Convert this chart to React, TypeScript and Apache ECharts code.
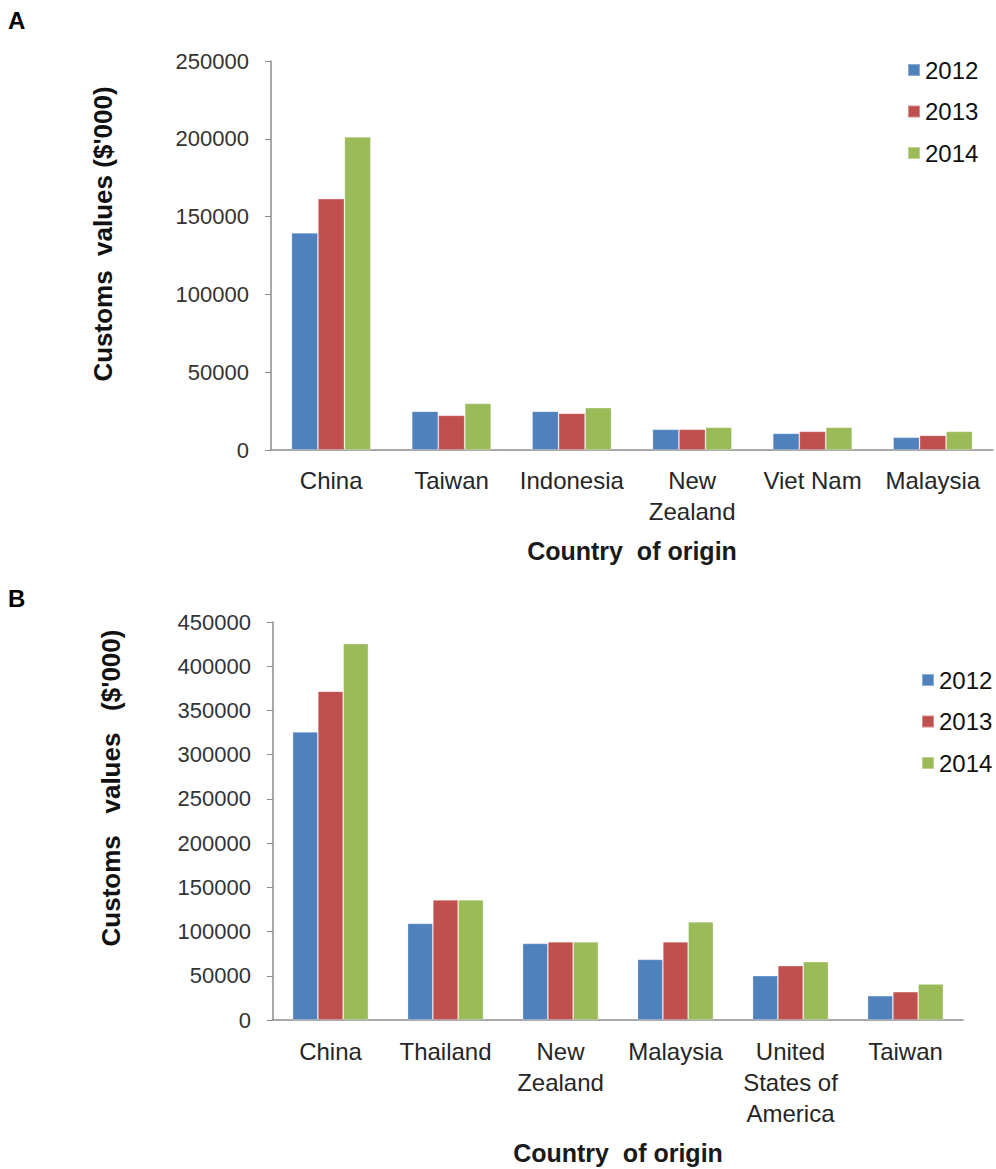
import React, { useEffect, useRef } from "react";
import * as echarts from "echarts";

const years = ["2012", "2013", "2014"];
const colors = ["#4F81BD", "#C0504D", "#9BBB59"];

const catsA = ["China", "Taiwan", "Indonesia", "New\nZealand", "Viet Nam", "Malaysia"];
const a2012 = [139600, 24900, 24900, 13300, 10700, 8200];
const a2013 = [161500, 22300, 23600, 13300, 12000, 9400];
const a2014 = [201300, 30000, 27200, 14600, 14600, 12000];

const catsB = ["China", "Thailand", "New\nZealand", "Malaysia", "United\nStates of\nAmerica", "Taiwan"];
const b2012 = [325700, 109200, 86600, 68500, 50100, 27500];
const b2013 = [371700, 135900, 88500, 88500, 61400, 32000];
const b2014 = [425600, 135900, 88500, 111100, 65900, 40700];

const yTitleA = "Customs  values ($'000)";
const yTitleB = "Customs   values   ($'000)";
const xTitle = "Country  of origin";

const FONT = "Liberation Sans, Arial, sans-serif";

export default function App() {
  const ref = useRef<HTMLDivElement>(null);
  useEffect(() => {
    if (!ref.current) return;
    const chart = echarts.init(ref.current, null, { renderer: "svg" });
    const seriesA = [a2012, a2013, a2014];
    const seriesB = [b2012, b2013, b2014];
    const xAxisCommon = (data: string[], gap: number, margin: number) => ({
      type: "category",
      data,
      axisLine: { lineStyle: { color: "#8c8c8c", width: 1.5 } },
      axisTick: { show: false },
      axisLabel: { color: "#262626", fontSize: 24, fontFamily: FONT, lineHeight: 31, margin, interval: 0 },
      name: xTitle,
      nameLocation: "middle",
      nameGap: gap,
      nameTextStyle: { color: "#1a1a1a", fontSize: 25, fontWeight: "bold", fontFamily: FONT },
    });
    const yAxisCommon = (max: number) => ({
      type: "value",
      min: 0,
      max,
      interval: 50000,
      splitLine: { show: false },
      axisLine: { show: true, lineStyle: { color: "#8c8c8c", width: 1.5 } },
      axisTick: { show: true, length: 6, lineStyle: { color: "#8c8c8c" } },
      axisLabel: {
        color: "#333",
        fontSize: 22,
        fontFamily: FONT,
        margin: 22,
        formatter: (v: number) => String(v),
      },
    });
    const series: any[] = [];
    years.forEach((y, i) => {
      series.push({
        type: "bar",
        name: y,
        xAxisIndex: 0,
        yAxisIndex: 0,
        data: seriesA[i],
        barGap: "0%",
        barCategoryGap: "34%",
        itemStyle: { color: colors[i], borderColor: "rgba(255,255,255,0.35)", borderWidth: 0.8 },
      });
    });
    years.forEach((y, i) => {
      series.push({
        type: "bar",
        name: y,
        xAxisIndex: 1,
        yAxisIndex: 1,
        data: seriesB[i],
        barGap: "0%",
        barCategoryGap: "34%",
        itemStyle: { color: colors[i], borderColor: "rgba(255,255,255,0.35)", borderWidth: 0.8 },
      });
    });
    const legendCommon = {
      orient: "vertical",
      itemWidth: 12,
      itemHeight: 12,
      icon: "rect",
      itemGap: 17.5,
      textStyle: { color: "#111", fontSize: 24, fontFamily: FONT, lineHeight: 24 },
      data: years,
    };
    const yTitle = (text: string, x: number, y: number) => ({
      type: "text",
      x,
      y,
      rotation: Math.PI / 2,
      style: {
        text,
        fontSize: 26,
        fontWeight: "bold",
        fontFamily: FONT,
        fill: "#111",
        textAlign: "center",
        textVerticalAlign: "middle",
      },
    });
    chart.setOption({
      animation: false,
      grid: [
        { left: 271, top: 61, width: 722, height: 389 },
        { left: 273, top: 622, width: 690, height: 398 },
      ],
      xAxis: [
        { ...xAxisCommon(catsA, 88, 15), gridIndex: 0 },
        { ...xAxisCommon(catsB, 120, 16), gridIndex: 1 },
      ],
      yAxis: [
        { ...yAxisCommon(250000), gridIndex: 0 },
        { ...yAxisCommon(450000), gridIndex: 1 },
      ],
      legend: [
        { ...legendCommon, left: 902, top: 53 },
        { ...legendCommon, left: 916, top: 663 },
      ],
      graphic: [
        { type: "text", left: 8, top: 8, style: { text: "A", fontSize: 24, fontWeight: "bold", fontFamily: FONT, fill: "#000" } },
        { type: "text", left: 8, top: 586, style: { text: "B", fontSize: 24, fontWeight: "bold", fontFamily: FONT, fill: "#000" } },
        yTitle(yTitleA, 103, 234),
        yTitle(yTitleB, 111, 788),
      ],
      series,
    });
    return () => chart.dispose();
  }, []);
  return (
    <div
      ref={ref}
      style={{ position: "absolute", left: 0, top: 0, width: 996, height: 1169, background: "#fff" }}
    />
  );
}
